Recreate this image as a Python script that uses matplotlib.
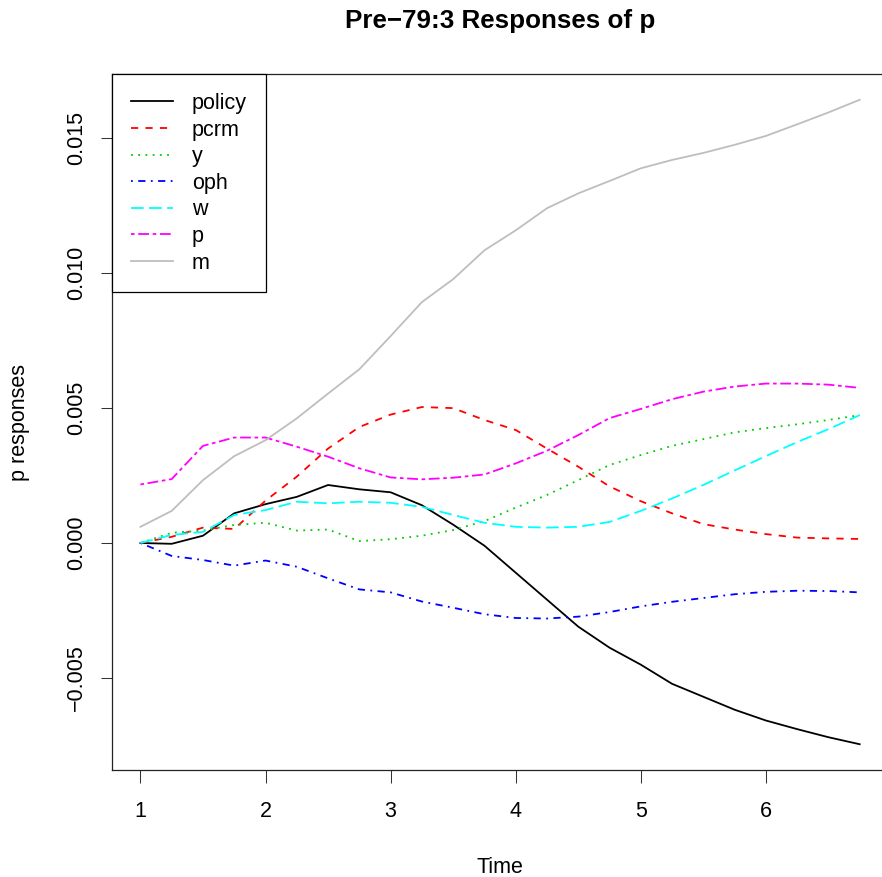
import numpy as np
import matplotlib
matplotlib.use("Agg")
from matplotlib import pyplot as plt

plt.rcParams['font.family'] = ['Liberation Sans', 'DejaVu Sans']

# horizon, quarterly steps from 1 to 6.75
time = np.arange(24) * 0.25 + 1

policy = [0.0, -0.00003, 0.00027, 0.0011, 0.00144, 0.00171, 0.00215, 0.00199,
          0.00188, 0.0014, 0.00068, -0.0001, -0.0011, -0.0021, -0.0031, -0.00388,
          -0.00451, -0.00522, -0.0057, -0.00618, -0.00658, -0.0069, -0.0072, -0.00746]
pcrm = [0.0, 0.00023, 0.00057, 0.00052, 0.00157, 0.00246, 0.0035, 0.0043,
        0.00476, 0.00504, 0.005, 0.00456, 0.00419, 0.0035, 0.00283, 0.0021,
        0.00155, 0.0011, 0.0007, 0.0005, 0.00033, 0.0002, 0.00017, 0.00015]
y = [0.0, 0.00038, 0.00046, 0.00067, 0.00075, 0.00046, 0.0005, 0.00007,
     0.00014, 0.00027, 0.00048, 0.00081, 0.00131, 0.00178, 0.00233, 0.00289,
     0.00326, 0.0036, 0.00385, 0.0041, 0.00426, 0.0044, 0.00456, 0.00474]
oph = [0.0, -0.00048, -0.00063, -0.00084, -0.00065, -0.00088, -0.00131, -0.00172,
       -0.00183, -0.00217, -0.0024, -0.00264, -0.00278, -0.0028, -0.00273, -0.00256,
       -0.00235, -0.00218, -0.00204, -0.0019, -0.00181, -0.00177, -0.00178, -0.00183]
w = [0.0, 0.0003, 0.00041, 0.00104, 0.00122, 0.00153, 0.00147, 0.00153,
     0.00149, 0.00134, 0.00104, 0.00075, 0.0006, 0.00057, 0.0006, 0.00078,
     0.00119, 0.00165, 0.00215, 0.00269, 0.00322, 0.00374, 0.00422, 0.00474]
p = [0.00217, 0.00237, 0.0036, 0.00391, 0.00391, 0.00357, 0.0032, 0.00277,
     0.00243, 0.00236, 0.00242, 0.00254, 0.00295, 0.00342, 0.004, 0.00463,
     0.00497, 0.00533, 0.00561, 0.0058, 0.00591, 0.00591, 0.00587, 0.00575]
m = [0.0006, 0.00119, 0.00233, 0.00322, 0.00381, 0.00462, 0.00554, 0.00644,
     0.00767, 0.00893, 0.00978, 0.01085, 0.01159, 0.01241, 0.01296, 0.01342,
     0.01389, 0.0142, 0.01446, 0.01476, 0.01509, 0.01552, 0.01596, 0.01643]

names = ['policy', 'pcrm', 'y', 'oph', 'w', 'p', 'm']
series = [policy, pcrm, y, oph, w, p, m]
colors = ['black', 'red', '#00CD00', 'blue', 'cyan', 'magenta', '#BEBEBE']
# R lty 1..6 then solid for m
dashes = [None, (4, 4), (1, 3), (1, 3, 4, 3), (7, 3), (2, 2, 6, 2), None]

x_ticks = [1, 2, 3, 4, 5, 6]
y_ticks = [-0.005, 0.0, 0.005, 0.010, 0.015]

dpi = 100
fig = plt.figure(figsize=(8.82, 8.77), dpi=dpi)
ax = fig.add_axes([0.1266, 0.122, 0.8807, 0.7936])

lw = 1.3
for name, vals, col, ds in zip(names, series, colors, dashes):
    line, = ax.plot(time, vals, color=col, lw=lw, label=name)
    if ds is not None:
        line.set_dashes(ds)

# R style 4% padding
allv = np.concatenate([np.array(s) for s in series])
r = allv.max() - allv.min()
ax.set_ylim(allv.min() - 0.04 * r, allv.max() + 0.04 * r)
xr = time[-1] - time[0]
ax.set_xlim(time[0] - 0.04 * xr, time[-1] + 0.04 * xr)

fs = 15.5
ax.set_xticks(x_ticks)
ax.set_xticklabels([str(t) for t in x_ticks], fontsize=fs)
ax.set_yticks(y_ticks)
ax.set_yticklabels([('%.3f' % v).replace('-', '\u2212') for v in y_ticks],
                   fontsize=fs, rotation=90, va='center')
ax.tick_params(axis='x', direction='out', length=9.3, width=0.75, pad=13, color='#333333')
ax.tick_params(axis='y', direction='out', length=8, width=0.75, pad=9.5, color='#333333')
for s in ax.spines.values():
    s.set_linewidth(0.9)
    s.set_color('#222222')
# right edge of the box falls outside the picture in the original
ax.spines['right'].set_visible(False)

leg = ax.legend(loc='upper left', bbox_to_anchor=(0, 1), borderaxespad=0,
                fontsize=fs, fancybox=False, framealpha=1, edgecolor='black',
                handlelength=1.95, handletextpad=0.9, labelspacing=0.26,
                borderpad=0.88)
leg.get_frame().set_linewidth(0.9)

fig.text(500 / 882, 1 - 28 / 877, 'Pre\u221279:3 Responses of p', fontsize=18.7,
         fontweight='bold', ha='center', va='baseline')
fig.text(500 / 882, 1 - 873 / 877, 'Time', fontsize=fs, ha='center', va='baseline')
fig.text(20 / 882, 1 - 422 / 877, 'p responses', fontsize=fs, rotation=90,
         ha='center', va='center')

fig.savefig('out.png', dpi=dpi)
